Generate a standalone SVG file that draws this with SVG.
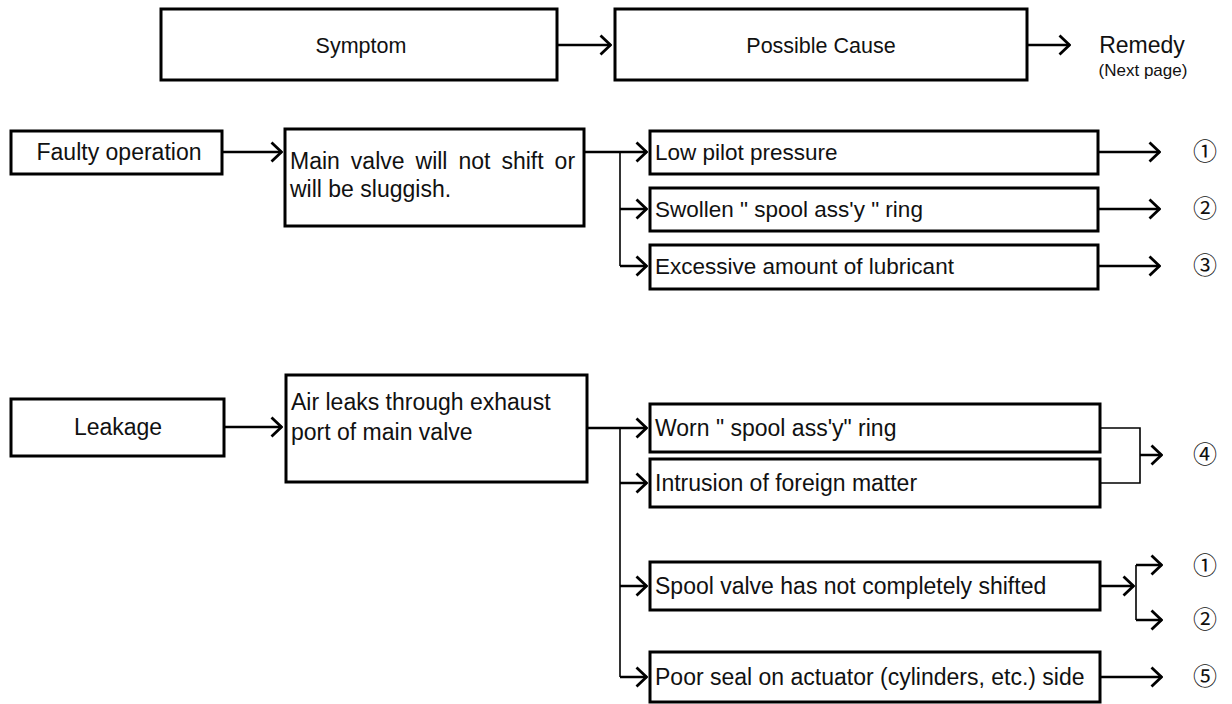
<svg xmlns="http://www.w3.org/2000/svg" width="1232" height="704" viewBox="0 0 1232 704">
<style>
  .box{fill:#fff;stroke:#000;stroke-width:3}
  .t{font-family:"Liberation Sans",Arial,sans-serif;font-size:23px;fill:#111}
  .h{font-size:21.5px}
  .m{font-size:22.5px}
  .c{text-anchor:middle}
  .s{font-size:17px}
  .num{font-family:"Liberation Sans","Noto Sans CJK JP",sans-serif;font-size:24px;fill:#111;text-anchor:middle}
  .ln{fill:none;stroke:#000;stroke-width:2.5}
  .thin{fill:none;stroke:#000;stroke-width:1.6}
  .ar{marker-end:url(#chev)}
</style>
<defs>
  <marker id="chev" viewBox="0 0 13 22" refX="12" refY="11" markerWidth="13" markerHeight="22" markerUnits="userSpaceOnUse" orient="auto">
    <path d="M1.5,1.5 L11.5,11 L1.5,20.5" fill="none" stroke="#000" stroke-width="2.8"/>
  </marker>
</defs>
<rect width="1232" height="704" fill="#fff"/>

<g id="connectors">
  <line class="ln ar" x1="557" y1="45" x2="611" y2="45"/>
  <line class="ln ar" x1="1027" y1="45" x2="1070" y2="45"/>

  <line class="ln ar" x1="222" y1="152" x2="282" y2="152"/>
  <line class="ln ar" x1="584" y1="152" x2="647" y2="152"/>
  <line class="thin" x1="620" y1="152" x2="620" y2="266"/>
  <line class="ln ar" x1="620" y1="209" x2="647" y2="209"/>
  <line class="ln ar" x1="620" y1="266" x2="647" y2="266"/>
  <line class="ln ar" x1="1098" y1="152" x2="1160" y2="152"/>
  <line class="ln ar" x1="1098" y1="209" x2="1160" y2="209"/>
  <line class="ln ar" x1="1098" y1="266" x2="1160" y2="266"/>

  <line class="ln ar" x1="224" y1="427" x2="282" y2="427"/>
  <line class="ln ar" x1="587" y1="428" x2="647" y2="428"/>
  <line class="thin" x1="620" y1="428" x2="620" y2="677"/>
  <line class="ln ar" x1="620" y1="483" x2="647" y2="483"/>
  <line class="ln ar" x1="620" y1="586" x2="647" y2="586"/>
  <line class="ln ar" x1="620" y1="677" x2="647" y2="677"/>

  <polyline class="thin" points="1100,428 1140,428 1140,483 1100,483"/>
  <line class="ln ar" x1="1140" y1="455" x2="1162" y2="455"/>

  <line class="ln ar" x1="1100" y1="586" x2="1134" y2="586"/>
  <line class="thin" x1="1136" y1="565" x2="1136" y2="620"/>
  <line class="ln ar" x1="1136" y1="565" x2="1162" y2="565"/>
  <line class="ln ar" x1="1136" y1="620" x2="1162" y2="620"/>

  <line class="ln ar" x1="1100" y1="677" x2="1162" y2="677"/>
</g>

<g id="symptom">
  <rect class="box" x="161" y="9" width="396" height="71"/>
  <text class="t h c" x="361" y="53">Symptom</text>
</g>
<g id="possible-cause">
  <rect class="box" x="615" y="9" width="412" height="71"/>
  <text class="t h c" x="821" y="53">Possible Cause</text>
</g>
<g id="remedy">
  <text class="t c" x="1142" y="53">Remedy</text>
  <text class="t c s" x="1143" y="76">(Next  page)</text>
</g>

<g id="faulty-operation">
  <rect class="box" x="11" y="131" width="211" height="43"/>
  <text class="t c" x="119" y="160">Faulty operation</text>
</g>
<g id="main-valve">
  <rect class="box" x="285" y="129" width="299" height="97"/>
  <text class="t" x="290" y="169" style="word-spacing:4.6px">Main valve will not shift or</text>
  <text class="t" x="290" y="197">will be sluggish.</text>
</g>
<g id="low-pilot">
  <rect class="box" x="650" y="131" width="448" height="43"/>
  <text class="t m" x="655" y="160">Low pilot pressure</text>
</g>
<g id="swollen">
  <rect class="box" x="650" y="188" width="448" height="43"/>
  <text class="t m" x="655" y="217">Swollen " spool ass'y " ring</text>
</g>
<g id="excessive">
  <rect class="box" x="650" y="245" width="448" height="44"/>
  <text class="t m" x="655" y="274">Excessive amount of lubricant</text>
</g>
<g id="r1a"><text class="num" x="1205" y="160">①</text></g>
<g id="r2a"><text class="num" x="1205" y="217">②</text></g>
<g id="r3a"><text class="num" x="1205" y="274">③</text></g>

<g id="leakage">
  <rect class="box" x="11" y="399" width="213" height="57"/>
  <text class="t c" x="118" y="435">Leakage</text>
</g>
<g id="air-leaks">
  <rect class="box" x="286" y="375" width="301" height="107"/>
  <text class="t" x="291" y="410">Air leaks through exhaust</text>
  <text class="t" x="291" y="440">port of main valve</text>
</g>
<g id="worn">
  <rect class="box" x="650" y="404" width="450" height="48"/>
  <text class="t" x="655" y="436">Worn " spool ass'y" ring</text>
</g>
<g id="intrusion">
  <rect class="box" x="650" y="459" width="450" height="48"/>
  <text class="t" x="655" y="491">Intrusion of foreign matter</text>
</g>
<g id="spool-valve">
  <rect class="box" x="650" y="562" width="450" height="48"/>
  <text class="t" x="655" y="594">Spool valve has not completely shifted</text>
</g>
<g id="poor-seal">
  <rect class="box" x="650" y="652" width="450" height="50"/>
  <text class="t" x="655" y="685">Poor seal on actuator (cylinders, etc.) side</text>
</g>
<g id="r4"><text class="num" x="1205" y="463">④</text></g>
<g id="r1b"><text class="num" x="1205" y="574">①</text></g>
<g id="r2b"><text class="num" x="1205" y="628">②</text></g>
<g id="r5"><text class="num" x="1205" y="685">⑤</text></g>
</svg>
